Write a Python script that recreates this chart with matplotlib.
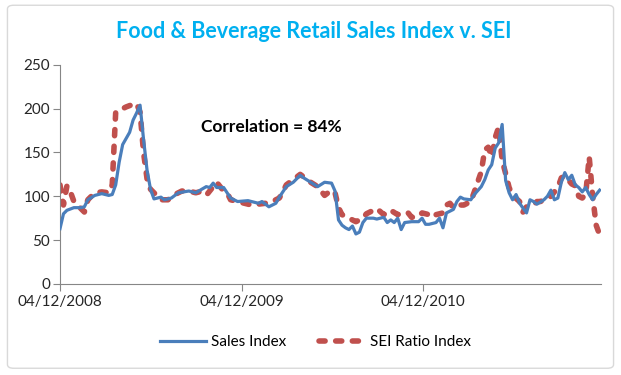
import datetime as dt
import matplotlib
matplotlib.use("Agg")
import matplotlib.pyplot as plt
import matplotlib.dates as mdates
from matplotlib.patches import FancyBboxPatch

# weekly data, week offsets from 04/12/2008
start = dt.date(2008, 12, 4)

sales_weeks = [0, 1, 2, 4, 6, 7, 8, 10, 12, 14, 15, 16, 17, 18, 20, 21, 22, 23, 24, 25,
               26, 27, 29, 30, 32, 34, 37, 39, 42, 43, 44, 45, 47, 49, 51, 54, 57, 58, 60, 62,
               63, 65, 67, 69, 70, 72, 74, 76, 78, 79, 80, 81, 82, 83, 84, 85, 86, 87, 88, 90,
               91, 93, 94, 95, 96, 97, 98, 99, 101, 103, 104, 105, 106, 108, 109, 110, 111, 113, 114, 115,
               116, 118, 119, 121, 122, 123, 124, 125, 126, 127, 128, 129, 130, 131, 132, 134, 135, 136, 137, 139,
               140, 141, 142, 143, 144, 145, 146, 147, 148, 149, 150, 151, 152, 153, 154, 155]
sales_vals = [63, 80, 84, 87, 87, 88, 96, 101, 103, 101, 102, 113, 139, 159, 173, 187, 195, 204, 165, 130,
              108, 97, 99, 96, 98, 104, 106, 104, 111, 110, 115, 110, 110, 98, 94, 95, 92, 94, 88, 92,
              99, 111, 116, 124, 121, 116, 111, 116, 115, 106, 73, 67, 64, 62, 66, 57, 59, 70, 75, 75,
              74, 76, 70, 73, 70, 75, 62, 70, 71, 71, 75, 68, 68, 70, 75, 64, 81, 85, 94, 99,
              97, 96, 102, 111, 119, 130, 136, 155, 161, 182, 118, 104, 96, 102, 92, 81, 96, 94, 91, 96,
              100, 107, 96, 98, 116, 127, 119, 124, 113, 110, 105, 110, 102, 96, 102, 107]

sei_weeks = [0, 1, 2, 3, 4, 5, 7, 8, 10, 12, 14, 15, 16, 17, 19, 21, 22, 23, 24, 25,
             26, 27, 29, 31, 33, 35, 37, 39, 40, 42, 44, 45, 47, 48, 49, 51, 53, 55, 57, 59,
             61, 63, 64, 65, 67, 69, 70, 72, 74, 76, 77, 78, 79, 80, 81, 82, 84, 85, 87, 88,
             90, 91, 93, 94, 95, 97, 98, 100, 101, 103, 104, 106, 107, 108, 110, 111, 112, 113, 115, 116,
             118, 119, 121, 122, 123, 124, 125, 126, 127, 128, 129, 130, 132, 133, 134, 136, 137, 138, 140, 141,
             143, 144, 145, 147, 148, 149, 150, 151, 152, 153, 154, 155]
sei_vals = [113, 90, 112, 105, 94, 90, 82, 96, 104, 105, 104, 113, 196, 198, 202, 205, 206, 196, 150, 120,
            108, 104, 96, 96, 102, 106, 106, 104, 105, 101, 111, 116, 106, 104, 96, 94, 92, 90, 91, 92,
            94, 98, 105, 113, 119, 125, 122, 116, 111, 101, 104, 101, 104, 87, 79, 77, 73, 71, 75, 80,
            84, 86, 79, 83, 84, 79, 81, 81, 76, 77, 81, 79, 76, 79, 81, 90, 92, 87, 90, 90,
            94, 105, 128, 153, 156, 145, 167, 179, 141, 126, 110, 101, 94, 82, 88, 90, 94, 94, 98, 100,
            110, 121, 123, 114, 112, 100, 98, 102, 145, 100, 67, 56]

tick_dates = [dt.date(2008, 12, 4), dt.date(2009, 12, 4), dt.date(2010, 12, 4)]

font = "Lato"
plt.rcParams['font.family'] = [font, 'DejaVu Sans']

sales_x = [start + dt.timedelta(weeks=w) for w in sales_weeks]
sei_x = [start + dt.timedelta(weeks=w) for w in sei_weeks]

fig = plt.figure(figsize=(6.21, 3.75), dpi=100)
fig.patches.append(FancyBboxPatch((0.012, 0.018), 0.976, 0.968, boxstyle="round,pad=0,rounding_size=0.01",
                                  transform=fig.transFigure, facecolor="none", edgecolor="#d9d9d9",
                                  lw=1, zorder=-1))
ax = fig.add_axes([0.0966, 0.243, 0.8714, 0.584])
ax.patch.set_alpha(0)

ax.plot(sales_x, sales_vals, color="#4a7ebb", lw=2.3, label="Sales Index", zorder=3)
ax.plot(sei_x, sei_vals, color="#c0504d", lw=4, dashes=(1.1, 1.9), dash_capstyle="round",
        label="SEI Ratio Index", zorder=2)

ax.set_ylim(0, 250)
ax.set_yticks(range(0, 251, 50))
ax.set_xlim(start, start + dt.timedelta(weeks=155.5))
ax.set_xticks(tick_dates)
ax.xaxis.set_major_formatter(mdates.DateFormatter("%d/%m/%Y"))

for s in ["top", "right"]:
    ax.spines[s].set_visible(False)
for s in ["left", "bottom"]:
    ax.spines[s].set_color("#868686")
ax.tick_params(axis="y", direction="out", length=5, color="#868686", labelsize=11, labelcolor="#262626", pad=2)
ax.tick_params(axis="x", direction="out", length=5, color="#868686", labelsize=11, labelcolor="#262626", pad=3)
for lab in ax.get_xticklabels():
    lab.set_horizontalalignment("center")

fig.text(0.505, 0.915, "Food & Beverage Retail Sales Index v. SEI", color="#00b0f0",
         fontsize=15.5, fontweight="bold", ha="center", va="center")
ax.text(0.39, 0.717, "Correlation = 84%", transform=ax.transAxes, fontsize=12.5,
        fontweight="bold", ha="center", va="center", color="black")

fig.legend(loc="center", bbox_to_anchor=(0.508, 0.088), ncol=2, frameon=False, fontsize=11,
           handlelength=3.0, columnspacing=2.2, handletextpad=0.3)

fig.savefig("out.png", dpi=100)
